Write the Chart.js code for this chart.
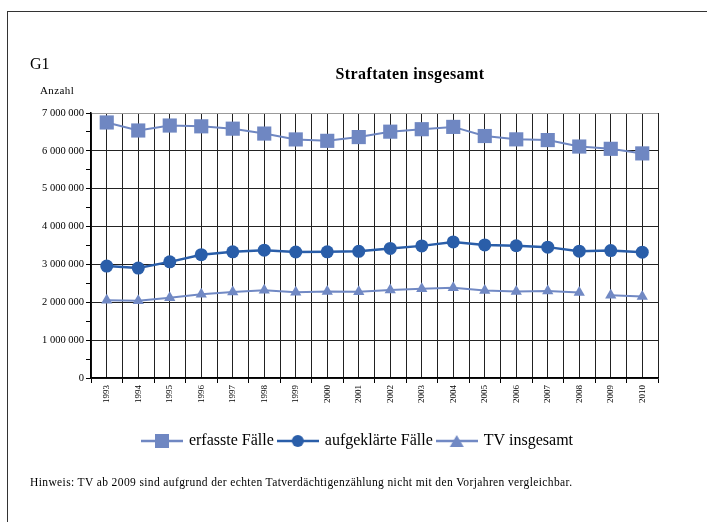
<!DOCTYPE html>
<html><head><meta charset="utf-8">
<script src="https://cdn.jsdelivr.net/npm/chart.js@4.4.1/dist/chart.umd.min.js"></script>
<style>
html,body{margin:0;padding:0;background:#fff;}
#wrap{position:relative;width:707px;height:522px;overflow:hidden;font-family:"Liberation Serif","Times New Roman",serif;}
#frame{position:absolute;left:7px;top:11px;width:700px;height:520px;border-top:1.5px solid #333;border-left:1.5px solid #333;}
canvas{position:absolute;left:0;top:0;}
.t{position:absolute;white-space:nowrap;color:#000;}
</style></head><body>
<div id="wrap">
<div id="frame"></div>
<canvas id="c" width="707" height="522"></canvas>
<div class="t" style="left:30px;top:55px;font-size:16px;">G1</div>
<div class="t" style="left:410px;top:65px;font-size:16px;letter-spacing:0.4px;font-weight:bold;transform:translateX(-50%);">Straftaten insgesamt</div>
<div class="t" style="left:40px;top:84px;font-size:11px;letter-spacing:0.4px;">Anzahl</div>
<div class="t" style="left:30px;top:476px;font-size:11.5px;letter-spacing:0.38px;">Hinweis: TV ab 2009 sind aufgrund der echten Tatverdächtigenzählung nicht mit den Vorjahren vergleichbar.</div>
</div>
<script>
const years = ['1993','1994','1995','1996','1997','1998','1999','2000','2001','2002','2003','2004','2005','2006','2007','2008','2009','2010'];
const erfasst = [6750000,6538000,6669000,6648000,6586000,6457000,6302000,6265000,6364000,6507000,6572000,6633000,6392000,6304000,6285000,6114000,6054000,5933000];
const aufgeklaert = [2957000,2903000,3068000,3257000,3333000,3377000,3328000,3333000,3347000,3423000,3490000,3595000,3515000,3493000,3457000,3351000,3366000,3323000];
const tv = [2052000,2038000,2118000,2213000,2274000,2320000,2263000,2286000,2281000,2326000,2355000,2384000,2313000,2283000,2295000,2256000,2187000,2153000];
const yTicks = [0,1000000,2000000,3000000,4000000,5000000,6000000,7000000];
const seriesNames = ['erfasste Fälle','aufgeklärte Fälle','TV insgesamt'];

const C1 = '#6f87c2', C2 = '#2a5ea9', C3 = '#7189c4';

function legendImg(color, kind){
  const cv = document.createElement('canvas');
  cv.width = 42; cv.height = 16;
  const g = cv.getContext('2d');
  g.strokeStyle = color; g.lineWidth = 2.5;
  g.beginPath(); g.moveTo(0,8); g.lineTo(42,8); g.stroke();
  g.fillStyle = color;
  if (kind === 'rect') g.fillRect(14,1,14,14);
  else if (kind === 'circle') { g.beginPath(); g.arc(21,8,6,0,Math.PI*2); g.fill(); }
  else { g.beginPath(); g.moveTo(21,2); g.lineTo(28,14); g.lineTo(14,14); g.closePath(); g.fill(); }
  return cv;
}
const legendImgs = [legendImg(C1,'rect'), legendImg(C2,'circle'), legendImg(C3,'triangle')];

const fmt = v => String(v).replace(/\B(?=(\d{3})+(?!\d))/g,' ');

const legendShift = {
  id: 'legendShift',
  afterLayout(chart) {
    const lg = chart.legend;
    if (lg) { lg.left += 58; }
  }
};

new Chart(document.getElementById('c'), {
  type: 'line',
  data: {
    labels: years,
    datasets: [
      {label: seriesNames[0], data: erfasst, borderColor: C1, backgroundColor: C1, borderWidth: 2, pointStyle: 'rect', pointRadius: 10, pointBorderWidth: 0, tension: 0},
      {label: seriesNames[1], data: aufgeklaert, borderColor: C2, backgroundColor: C2, borderWidth: 2.5, pointStyle: 'circle', pointRadius: 6.5, pointBorderWidth: 0, tension: 0},
      {label: seriesNames[2], data: tv, borderColor: C3, backgroundColor: C3, borderWidth: 2, pointStyle: 'triangle', pointRadius: 6.5, pointBorderWidth: 0, tension: 0,
        segment: {borderColor: ctx => ctx.p0DataIndex === 15 ? 'rgba(0,0,0,0)' : undefined}}
    ]
  },
  plugins: [legendShift],
  options: {
    responsive: false,
    animation: false,
    events: [],
    layout: {padding: {left: 0, right: 49, top: 113, bottom: 63}},
    plugins: {
      tooltip: {enabled: false},
      title: {display: false},
      legend: {
        position: 'bottom',
        labels: {
          usePointStyle: true,
          pointStyleWidth: 38,
          padding: 5,
          color: '#000',
          font: {family: '"Liberation Serif","Times New Roman",serif', size: 16},
          generateLabels: chart => chart.data.datasets.map((ds,i) => ({
            text: ds.label, pointStyle: legendImgs[i], datasetIndex: i, hidden: false,
            lineWidth: 0, strokeStyle: 'rgba(0,0,0,0)', fillStyle: 'rgba(0,0,0,0)', fontColor: '#000'
          }))
        }
      }
    },
    scales: {
      x: {
        type: 'category',
        offset: true,
        grid: {offset: true, color: ctx => ctx.index === years.length ? '#999' : '#222', lineWidth: 1, tickLength: 5, drawTicks: true, tickColor: '#000'},
        border: {display: true, color: '#000', width: 1.5},
        ticks: {minRotation: 90, maxRotation: 90, autoSkip: false, padding: 2, color: '#000',
          font: {family: '"Liberation Serif","Times New Roman",serif', size: 9}},
        afterFit: s => { s.height = 50; }
      },
      x2: {
        type: 'category',
        labels: years,
        position: 'bottom',
        offset: true,
        grid: {offset: false, color: '#222', lineWidth: 1, drawTicks: false},
        border: {display: false},
        ticks: {display: false},
        afterFit: s => { s.height = 0; }
      },
      y: {
        min: 0, max: 7000000,
        grid: {color: ctx => (ctx.tick && ctx.tick.value % 1000000 === 0) ? (ctx.tick.value === 7000000 ? '#999' : '#222') : 'rgba(0,0,0,0)', tickColor: '#000', tickLength: 5, lineWidth: 1},
        border: {display: true, color: '#000', width: 1.5},
        afterBuildTicks: s => {
          const t = [];
          for (let i = 0; i < yTicks.length; i++) {
            t.push({value: yTicks[i]});
            if (i < yTicks.length - 1) t.push({value: (yTicks[i] + yTicks[i+1]) / 2});
          }
          s.ticks = t;
        },
        ticks: {autoSkip: false, padding: 2, color: '#000',
          font: {family: '"Liberation Serif","Times New Roman",serif', size: 10.5},
          callback: v => yTicks.includes(v) ? fmt(v) : ''},
        afterFit: s => { s.width = 91; }
      }
    }
  }
});
</script>
</body></html>
